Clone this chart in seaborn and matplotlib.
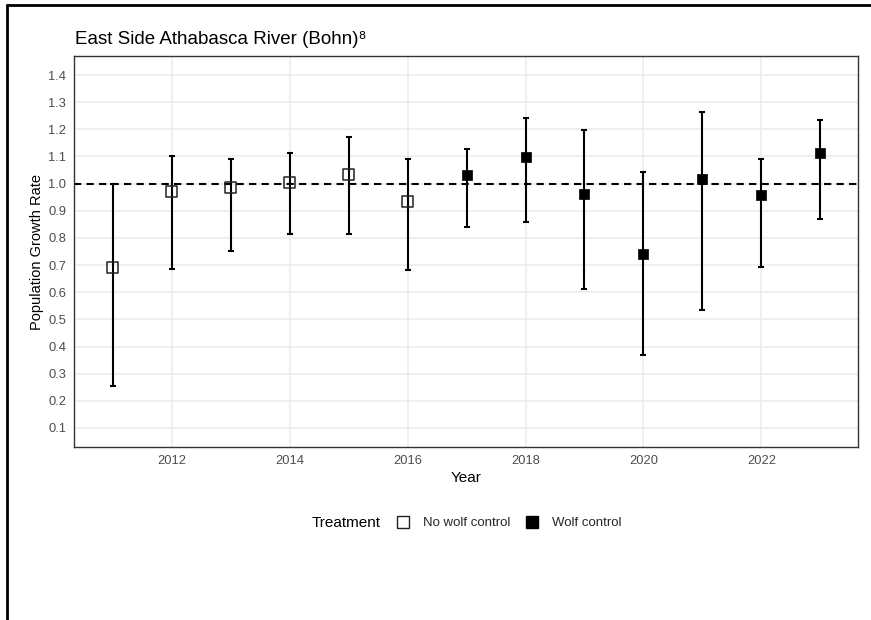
import matplotlib
matplotlib.use("Agg")
import matplotlib.pyplot as plt
from matplotlib.lines import Line2D
import numpy as np
import pandas as pd
import seaborn as sns

# Annual population growth estimates with 90% intervals
years = [2011, 2012, 2013, 2014, 2015, 2016, 2017, 2018, 2019, 2020, 2021, 2022, 2023]
treatment = ["No wolf control"] * 6 + ["Wolf control"] * 7
growth = [0.690, 0.970, 0.985, 1.005, 1.035, 0.935, 1.033, 1.098, 0.962, 0.740, 1.017, 0.958, 1.112]
lower = [0.255, 0.685, 0.751, 0.816, 0.816, 0.682, 0.839, 0.858, 0.611, 0.369, 0.536, 0.692, 0.870]
upper = [1.000, 1.102, 1.091, 1.112, 1.172, 1.091, 1.128, 1.240, 1.198, 1.042, 1.263, 1.091, 1.235]

y_ticks = [0.1, 0.2, 0.3, 0.4, 0.5, 0.6, 0.7, 0.8, 0.9, 1.0, 1.1, 1.2, 1.3, 1.4]
x_ticks = [2012, 2014, 2016, 2018, 2020, 2022]
groups = ["No wolf control", "Wolf control"]

df = pd.DataFrame({"Year": years, "Treatment": treatment, "Growth": growth,
                   "Lower": lower, "Upper": upper})

sns.set_theme(style="whitegrid")
plt.rcParams["font.family"] = ["Liberation Sans", "DejaVu Sans"]

W, H = 871, 620
fig = plt.figure(figsize=(W / 100, H / 100), dpi=100)
ax = fig.add_axes([74 / W, 1 - 447 / H, (858 - 74) / W, (447 - 56) / H])

# reference line at stable growth
ax.axhline(1.0, color="black", linestyle=(0, (3.5, 2.5)), linewidth=1.5, zorder=2)

# interval bars
ax.errorbar(df["Year"], df["Growth"],
            yerr=[df["Growth"] - df["Lower"], df["Upper"] - df["Growth"]],
            fmt="none", ecolor="black", elinewidth=1.5, capsize=2.3, capthick=1.5,
            zorder=3)

# point estimates: hollow squares without control, filled squares with control
styles = {
    "No wolf control": dict(color="none", edgecolor="#222222", linewidth=1.1),
    "Wolf control": dict(color="black", edgecolor="black", linewidth=0.5),
}
for g in groups:
    sub = df[df["Treatment"] == g]
    sns.scatterplot(data=sub, x="Year", y="Growth", marker="s", s=62, ax=ax,
                    legend=False, zorder=4, **styles[g])

ax.set_xlim(2010.34, 2023.64)
ax.set_ylim(0.03, 1.47)
ax.set_xticks(x_ticks)
ax.set_yticks(y_ticks)
ax.set_yticklabels([f"{v:.1f}" for v in y_ticks])

ax.grid(True, color="#EBEBEB", linewidth=1.1)
for sp in ax.spines.values():
    sp.set_color("#333333")
    sp.set_linewidth(1.0)
ax.tick_params(axis="both", length=3, width=0.9, color="#333333",
               labelcolor="#4D4D4D", labelsize=9.3, pad=2.5)

ax.set_xlabel("Year", fontsize=11, color="black", labelpad=3)
ax.set_ylabel("Population Growth Rate", fontsize=10.5, color="black", labelpad=3)

fig.text(75 / W, 1 - 40 / H, "East Side Athabasca River (Bohn)\u2078", fontsize=13.5,
         color="black", ha="left", va="center")

# legend along the bottom
fig.text(312 / W, 1 - 523 / H, "Treatment", fontsize=11, color="black",
         ha="left", va="center")
handles = [
    Line2D([], [], linestyle="none", marker="s", markersize=8,
           markerfacecolor="none", markeredgecolor="#222222", markeredgewidth=1.0),
    Line2D([], [], linestyle="none", marker="s", markersize=8,
           markerfacecolor="black", markeredgecolor="black"),
]
fig.legend(handles, groups, loc="center left", bbox_to_anchor=(396.4 / W, 1 - 523 / H),
           ncol=2, frameon=False, fontsize=9.5, handlelength=1.0, handletextpad=1.0,
           columnspacing=1.17, borderpad=0, borderaxespad=0)

# frame lines along the top and left edge of the figure
fig.add_artist(Line2D([7 / W, 7 / W], [0, 1 - 5 / H], transform=fig.transFigure,
                      color="black", linewidth=2))
fig.add_artist(Line2D([7 / W, 1], [1 - 5 / H, 1 - 5 / H], transform=fig.transFigure,
                      color="black", linewidth=2))

fig.savefig("out.png", dpi=100, facecolor="white")
